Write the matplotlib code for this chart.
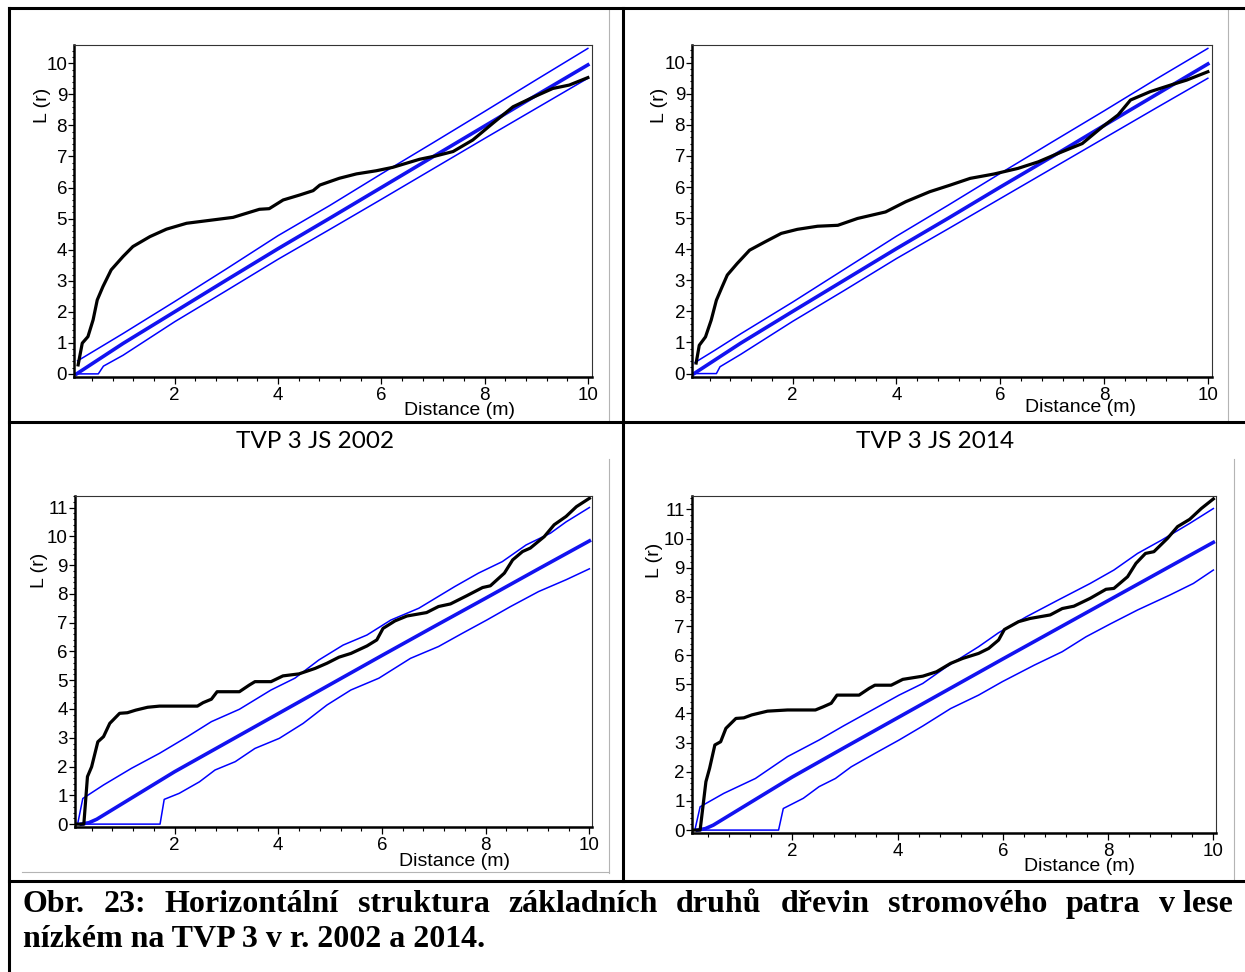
import matplotlib
matplotlib.use("Agg")
import matplotlib.pyplot as plt
from matplotlib.lines import Line2D
from matplotlib.ticker import MultipleLocator

W, H = 1245, 972

# ---- data read from the picture: L(r) function, observed + envelope ----
# top left panel
r_obs1 = [0.13, 0.21, 0.32, 0.42, 0.50, 0.61, 0.77, 1.0, 1.19, 1.52, 1.84, 2.23, 2.61, 3.13, 3.64,
          3.83, 4.10, 4.42, 4.68, 4.81, 5.19, 5.52, 5.9, 6.22, 6.48, 6.74, 7.06, 7.39, 7.77, 8.16,
          8.55, 8.93, 9.32, 9.64, 10.0]
L_obs1 = [0.29, 0.99, 1.2, 1.74, 2.38, 2.81, 3.35, 3.78, 4.1, 4.42, 4.66, 4.85, 4.93, 5.04, 5.3,
          5.32, 5.6, 5.76, 5.9, 6.08, 6.3, 6.44, 6.54, 6.65, 6.78, 6.91, 7.02, 7.16, 7.53, 8.07,
          8.6, 8.9, 9.19, 9.3, 9.54]
r_hi1 = [0.12, 0.5, 1, 2, 3, 4, 5, 6, 7, 8, 9, 10]
hi1 = [0.42, 0.8, 1.3, 2.33, 3.38, 4.45, 5.42, 6.44, 7.44, 8.45, 9.47, 10.48]
r_lo1 = [0.12, 0.52, 0.62, 1, 2, 3, 4, 5, 6, 7, 8, 9, 10]
lo1 = [0, 0, 0.25, 0.6, 1.68, 2.68, 3.69, 4.65, 5.62, 6.6, 7.58, 8.55, 9.52]
r_m1 = [0.1, 1, 2, 3, 4, 5, 6, 7, 8, 9, 10]
m1 = [0, 0.98, 2.0, 3.02, 4.03, 5.01, 6.0, 6.99, 7.98, 8.97, 9.95]

# top right panel
r_obs2 = [0.14, 0.20, 0.32, 0.43, 0.53, 0.64, 0.74, 0.93, 1.17, 1.47, 1.78, 2.09, 2.48, 2.87, 3.25,
          3.79, 4.18, 4.64, 5.03, 5.42, 5.88, 6.34, 6.73, 7.11, 7.58, 7.97, 8.27, 8.51, 8.89, 9.28,
          9.59, 10.0]
L_obs2 = [0.34, 0.91, 1.18, 1.72, 2.36, 2.79, 3.17, 3.54, 3.97, 4.24, 4.51, 4.64, 4.74, 4.77, 4.99,
          5.2, 5.53, 5.85, 6.06, 6.28, 6.42, 6.6, 6.81, 7.08, 7.4, 7.94, 8.32, 8.8, 9.07, 9.28,
          9.44, 9.71]
r_hi2 = [0.12, 0.5, 1, 2, 3, 4, 5, 6, 7, 8, 9, 10]
hi2 = [0.36, 0.75, 1.28, 2.3, 3.36, 4.42, 5.42, 6.44, 7.45, 8.45, 9.47, 10.46]
r_lo2 = [0.12, 0.53, 0.6, 1, 2, 3, 4, 5, 6, 7, 8, 9, 10]
lo2 = [0, 0, 0.22, 0.62, 1.68, 2.68, 3.7, 4.66, 5.63, 6.6, 7.57, 8.54, 9.5]
r_m2 = [0.1, 1, 2, 3, 4, 5, 6, 7, 8, 9, 10]
m2 = [0, 0.98, 2.0, 3.01, 4.02, 5.0, 6.0, 6.98, 7.98, 8.97, 9.96]

# bottom left panel (TVP 3 JS 2002)
r_obs3 = [0.11, 0.25, 0.32, 0.40, 0.52, 0.63, 0.75, 0.94, 1.09, 1.25, 1.48, 1.71, 2.09, 2.44, 2.55,
          2.71, 2.82, 3.25, 3.44, 3.55, 3.86, 4.09, 4.4, 4.71, 4.94, 5.17, 5.4, 5.71, 5.9, 6.02,
          6.25, 6.48, 6.86, 7.09, 7.32, 7.63, 7.94, 8.09, 8.36, 8.52, 8.71, 8.86, 9.13, 9.32, 9.55,
          9.75, 10.0]
L_obs3 = [0, 0, 1.65, 1.99, 2.86, 3.04, 3.5, 3.85, 3.87, 3.96, 4.06, 4.1, 4.1, 4.1, 4.22,
          4.34, 4.6, 4.6, 4.83, 4.95, 4.95, 5.15, 5.22, 5.41, 5.59, 5.8, 5.93, 6.19, 6.4, 6.8,
          7.06, 7.23, 7.35, 7.56, 7.65, 7.93, 8.22, 8.28, 8.72, 9.18, 9.47, 9.59, 9.99, 10.4, 10.69,
          11.03, 11.32]
r_hi3 = [0.13, 0.23, 0.63, 1.17, 1.71, 2.25, 2.71, 3.25, 3.86, 4.32, 4.78, 5.25, 5.71, 6.17, 6.71,
         7.4, 7.86, 8.32, 8.78, 9.25, 9.55, 10.0]
hi3 = [0, 0.89, 1.36, 1.94, 2.46, 3.04, 3.56, 3.99, 4.66, 5.07, 5.7, 6.22, 6.57, 7.09, 7.5,
       8.25, 8.72, 9.12, 9.7, 10.11, 10.5, 11.0]
r_lo3 = [0.13, 1.72, 1.8, 2.09, 2.48, 2.78, 3.17, 3.55, 4.02, 4.48, 4.94, 5.4, 5.94, 6.55, 7.09,
         7.55, 8.02, 8.48, 9.02, 9.55, 10.0]
lo3 = [0, 0, 0.86, 1.07, 1.47, 1.88, 2.17, 2.63, 2.98, 3.5, 4.14, 4.66, 5.07, 5.76, 6.17,
       6.63, 7.09, 7.56, 8.08, 8.49, 8.87]
r_m3 = [0.2, 0.35, 0.5, 1, 2, 3, 4, 5, 6, 7, 8, 9, 10]
m3 = [0, 0.05, 0.17, 0.72, 1.82, 2.83, 3.84, 4.85, 5.86, 6.86, 7.85, 8.85, 9.84]

# bottom right panel (TVP 3 JS 2014)
r_obs4 = [0.13, 0.25, 0.36, 0.43, 0.53, 0.64, 0.74, 0.93, 1.08, 1.23, 1.53, 1.91, 2.44, 2.59, 2.74,
          2.85, 3.27, 3.46, 3.57, 3.88, 4.1, 4.48, 4.74, 5.01, 5.24, 5.54, 5.73, 5.92, 6.03, 6.3,
          6.52, 6.9, 7.13, 7.35, 7.66, 7.96, 8.11, 8.37, 8.53, 8.71, 8.87, 9.13, 9.32, 9.55, 9.77,
          10.0]
L_obs4 = [0, 0, 1.66, 2.12, 2.92, 3.03, 3.49, 3.83, 3.85, 3.95, 4.08, 4.12, 4.12, 4.23, 4.35,
          4.63, 4.63, 4.86, 4.97, 4.97, 5.17, 5.28, 5.43, 5.72, 5.89, 6.06, 6.23, 6.52, 6.88, 7.15,
          7.26, 7.38, 7.6, 7.68, 7.95, 8.26, 8.29, 8.69, 9.15, 9.49, 9.55, 10.01, 10.41, 10.66, 11.03,
          11.36]
r_hi4 = [0.15, 0.25, 0.7, 1.3, 1.91, 2.51, 2.97, 3.57, 4.03, 4.48, 4.93, 5.54, 5.92, 6.45, 7.05,
         7.66, 8.11, 8.56, 9.02, 9.55, 10.0]
hi4 = [0, 0.8, 1.26, 1.77, 2.52, 3.09, 3.57, 4.17, 4.63, 5.03, 5.6, 6.29, 6.77, 7.32, 7.89,
       8.46, 8.92, 9.49, 9.95, 10.52, 11.03]
r_lo4 = [0.15, 1.74, 1.83, 2.21, 2.51, 2.82, 3.12, 3.57, 4.03, 4.48, 5.01, 5.54, 5.99, 6.6, 7.13,
         7.58, 8.04, 8.56, 9.17, 9.62, 10.0]
lo4 = [0, 0, 0.74, 1.09, 1.49, 1.77, 2.17, 2.63, 3.09, 3.57, 4.17, 4.63, 5.09, 5.66, 6.12,
       6.63, 7.07, 7.55, 8.06, 8.46, 8.92]
r_m4 = [0.2, 0.35, 0.5, 1, 2, 3, 4, 5, 6, 7, 8, 9, 10]
m4 = [0, 0.05, 0.17, 0.72, 1.82, 2.84, 3.85, 4.86, 5.87, 6.87, 7.87, 8.87, 9.87]

titles = ["TVP 3 JS 2002", "TVP 3 JS 2014"]
caption1 = ["Obr.", "23:", "Horizontální", "struktura", "základních", "druhů", "dřevin",
            "stromového", "patra", "v lese"]
caption2 = "nízkém na TVP 3 v r. 2002 a 2014."

plt.rcParams['font.family'] = ['Liberation Sans', 'DejaVu Sans']

fig = plt.figure(figsize=(W / 100, H / 100), dpi=100)


def px_rect(x0, y0, x1, y1):
    return [x0 / W, 1 - y1 / H, (x1 - x0) / W, (y1 - y0) / H]


def panel(rect, xlim, ylim, obs, hi, lo, mean, ylab_pos, xlab_pos):
    ax = fig.add_axes(px_rect(*rect))
    ax.plot(hi[0], hi[1], color='#0000ff', lw=1.1)
    ax.plot(lo[0], lo[1], color='#0000ff', lw=1.1)
    ax.plot(mean[0], mean[1], color='#1212f0', lw=2.6)
    ax.plot(obs[0], obs[1], color='black', lw=2.3)
    ax.set_xlim(*xlim)
    ax.set_ylim(*ylim)
    ax.xaxis.set_major_locator(MultipleLocator(2))
    ax.xaxis.set_minor_locator(MultipleLocator(0.4))
    ax.yaxis.set_major_locator(MultipleLocator(1))
    ax.yaxis.set_minor_locator(MultipleLocator(0.2))
    ax.set_xticks([2, 4, 6, 8, 10])
    ax.tick_params(axis='x', which='major', length=5, width=0.9, pad=2.5, labelsize=13.5)
    ax.tick_params(axis='x', which='minor', length=2.6, width=0.8)
    ax.tick_params(axis='y', which='major', length=4, width=0.9, pad=1, labelsize=13.5)
    ax.tick_params(axis='y', which='minor', length=1.8, width=0.8)
    for s in ['left', 'bottom']:
        ax.spines[s].set_linewidth(1.8)
    for s in ['top', 'right']:
        ax.spines[s].set_linewidth(0.8)
        ax.spines[s].set_color('#333333')
    ax.set_xlabel('Distance (m)', fontsize=14, va='center', ha='center')
    ax.xaxis.set_label_coords(*xlab_pos)
    ax.set_ylabel('L (r)', fontsize=14, va='center', ha='center')
    ax.yaxis.set_label_coords(*ylab_pos)
    return ax


panel((74, 45, 592, 377), (0.05, 10.08), (-0.1, 10.59),
      (r_obs1, L_obs1), (r_hi1, hi1), (r_lo1, lo1), (r_m1, m1),
      (-0.061, 0.818), (0.745, -0.102))
panel((692, 45, 1212, 377), (0.06, 10.08), (-0.11, 10.57),
      (r_obs2, L_obs2), (r_hi2, hi2), (r_lo2, lo2), (r_m2, m2),
      (-0.062, 0.818), (0.748, -0.093))
panel((74.5, 496, 592, 827), (0.07, 10.05), (-0.1, 11.4),
      (r_obs3, L_obs3), (r_hi3, hi3), (r_lo3, lo3), (r_m3, m3),
      (-0.067, 0.776), (0.735, -0.103))
panel((691.7, 496, 1216, 833), (0.09, 10.05), (-0.1, 11.46),
      (r_obs4, L_obs4), (r_hi4, hi4), (r_lo4, lo4), (r_m4, m4),
      (-0.07, 0.81), (0.74, -0.098))

# panel titles
fig.text(315 / W, 1 - 442 / H, titles[0], ha='center', va='center', fontsize=17.5, family='Lato')
fig.text(935 / W, 1 - 442 / H, titles[1], ha='center', va='center', fontsize=17.5, family='Lato')


# table grid and picture frames
def hline(y, x0, x1, lw=2.2, color='black'):
    fig.add_artist(Line2D([x0 / W, x1 / W], [1 - y / H, 1 - y / H], lw=lw, color=color))


def vline(x, y0, y1, lw=2.2, color='black'):
    fig.add_artist(Line2D([x / W, x / W], [1 - y0 / H, 1 - y1 / H], lw=lw, color=color))


grey = '#b4b4b4'
vline(609, 10, 421, lw=0.8, color=grey)
vline(1228, 10, 421, lw=0.8, color=grey)
vline(609, 459, 873, lw=0.8, color=grey)
hline(872, 22, 609, lw=0.8, color=grey)
vline(1234, 459, 879, lw=0.8, color=grey)

hline(8, 9, W)
hline(422.5, 9, W)
hline(881, 9, W)
vline(9, 8, H)
vline(623, 8, 881)

# justified caption
renderer = fig.canvas.get_renderer()
cap_kw = dict(fontsize=23, fontweight='bold', family='Liberation Serif', va='baseline')
words = [fig.text(0, 1 - 912 / H, w, **cap_kw) for w in caption1]
widths = [t.get_window_extent(renderer).width for t in words]
left, right = 23, 1233
gap = (right - left - sum(widths)) / (len(words) - 1)
x = left
for t, w in zip(words, widths):
    t.set_x(x / W)
    x += w + gap
fig.text(left / W, 1 - 947 / H, caption2, **cap_kw)

fig.savefig('out.png', dpi=100)
